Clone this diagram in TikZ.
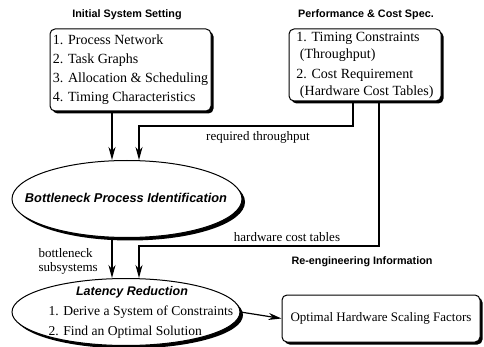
\documentclass[tikz,border=0pt]{standalone}
\usepackage{fontspec}
\setmainfont{Liberation Serif}
\newfontfamily\headfont{Liberation Sans}
\usetikzlibrary{shapes.geometric,shadows,arrows.meta}

\begin{document}
\begin{tikzpicture}[x=1pt, y=-1pt,
    box/.style={draw, line width=1pt, rounded corners=5pt, fill=white, inner sep=0pt,
      drop shadow={shadow xshift=2.5pt, shadow yshift=-2.5pt, fill=black, opacity=1}},
    oval/.style={draw, ellipse, line width=1pt, fill=white, inner sep=0pt,
      drop shadow={shadow xshift=3pt, shadow yshift=-3pt, fill=black, opacity=1}},
    title/.style={font=\headfont\bfseries\fontsize{10.8}{12}\selectfont},
    ovaltitle/.style={font=\headfont\bfseries\itshape\fontsize{12.8}{14}\selectfont},
    item/.style={font=\fontsize{14}{19}\selectfont, align=left},
    note/.style={font=\fontsize{13}{14}\selectfont},
    arr/.style={line width=1.2pt, -{Stealth[length=13pt, width=7pt, inset=4pt]}}]
    \useasboundingbox (0,0) rectangle (484,347);

    \node[title] (settingtitle) at (127,15) {Initial System Setting};
    \node[title] (spectitle) at (366,15) {Performance \& Cost Spec.};
    \node[title] (reengtitle) at (362,262) {Re-engineering Information};

    \node[box, minimum width=161pt, minimum height=82pt, item] (setting) at (130.5,70)
        {1. Process Network\\2. Task Graphs\\3. Allocation \& Scheduling\\4. Timing Characteristics};
    \node[box, minimum width=152pt, minimum height=72pt, item, font=\fontsize{14}{17}\selectfont] (spec) at (365,65)
        {1. Timing Constraints\\\ (Throughput)\\[3pt]2. Cost Requirement\\\ (Hardware Cost Tables)};

    \node[oval, minimum width=230pt, minimum height=77pt] (bneck) at (127,199) {};
    \node[ovaltitle] (bnecktext) at (126,198) {Bottleneck Process Identification};

    \node[oval, minimum width=228pt, minimum height=67pt] (latency) at (126,312) {};
    \node[ovaltitle, font=\headfont\bfseries\itshape\fontsize{12.5}{14}\selectfont] (latencytitle) at (132,292) {Latency Reduction};
    \node[item, anchor=west, font=\fontsize{13.6}{20}\selectfont] (latencytext) at (45,322)
        {1. Derive a System of Constraints\\2. Find an Optimal Solution};

    \node[box, minimum width=198pt, minimum height=47pt, font=\fontsize{13}{14}\selectfont] (scaling) at (381,318.5)
        {Optimal Hardware Scaling Factors};

    \node[note] (reqthr) at (258,137) {required throughput};
    \node[note] (hwcost) at (287,237) {hardware cost tables};
    \node[note, align=left, anchor=west] (bnsub) at (35,261) {bottleneck\\subsystems};

    \coordinate (xa) at (112,0);
    \coordinate (knee1) at (139,126);
    \coordinate (knee2) at (139,246);
    \coordinate (xc) at (353,0);
    \coordinate (xd) at (379,0);

    \draw[arr] (setting.south -| xa) -- (bneck.north -| xa);
    \draw[arr] (spec.south -| xc) |- (knee1) -- (bneck.north -| knee1);
    \draw[arr] (bneck.south -| xa) -- (latency.north -| xa);
    \draw[arr] (spec.south -| xd) |- (knee2) -- (latency.north -| knee2);
    \draw[arr] (latency.east) -- (scaling.west);
\end{tikzpicture}
\end{document}
